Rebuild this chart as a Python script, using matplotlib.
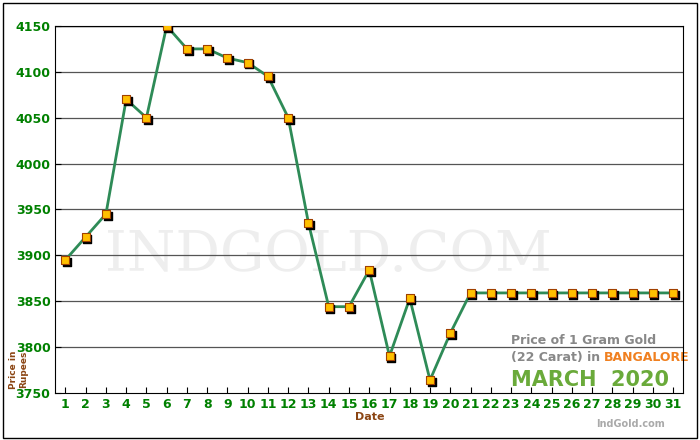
import matplotlib
matplotlib.use("Agg")
import matplotlib.pyplot as plt
from matplotlib.patches import Rectangle

dates = list(range(1, 32))
prices = [3895, 3920, 3945, 4070, 4050, 4150, 4125, 4125, 4115, 4110, 4095, 4050,
          3935, 3844, 3844, 3884, 3790, 3853, 3764, 3815] + [3859] * 11
yticks = [3750, 3800, 3850, 3900, 3950, 4000, 4050, 4100, 4150]

fig = plt.figure(figsize=(7, 4.4), dpi=100)
fig.patches.append(Rectangle((0.004, 0.004), 0.992, 0.99, transform=fig.transFigure,
                             fill=False, edgecolor="black", lw=1))
ax = fig.add_axes([0.079, 0.107, 0.897, 0.834])
ax.set_xlim(0.5, 31.5)
ax.set_ylim(3750, 4150)
for y in yticks[1:-1]:
    ax.axhline(y, color="#555555", lw=0.9, zorder=1)
ax.axhline(4150, color="black", lw=1, zorder=1)
ax.text(23.0, 3803, "Price of 1 Gram Gold", color="#888888", fontsize=9, fontweight="bold", zorder=0)
ax.text(23.0, 3785, "(22 Carat) in ", color="#888888", fontsize=9, fontweight="bold", zorder=0)
ax.text(27.6, 3785, "BANGALORE", color="#f08020", fontsize=9, fontweight="bold", zorder=0)
ax.text(23.0, 3758, "MARCH  2020", color="#6aaa3a", fontsize=15, fontweight="bold", zorder=0)
ax.text(14, 3900, "INDGOLD.COM", color="#eeeeee", fontsize=40, fontfamily="DejaVu Serif",
        ha="center", va="center", zorder=0)
ax.plot(dates, prices, color="#2e8b57", lw=2, zorder=3)
ax.scatter([d + 0.08 for d in dates], [p - 2 for p in prices], marker="s", s=36, color="black", zorder=4)
ax.scatter(dates, prices, marker="s", s=36, color="#ffc000", edgecolors="#a04000", linewidths=0.8, zorder=5)
ax.set_xticks(dates)
ax.set_yticks(yticks)
ax.tick_params(colors="black", labelcolor="green", labelsize=9, direction="in", length=4)
for lab in ax.get_yticklabels() + ax.get_xticklabels():
    lab.set_fontweight("bold")
ax.set_xlabel("Date", color="#8b4513", fontsize=8, fontweight="bold", labelpad=1)
fig.text(0.027, 0.16, "Price in\nRupees", color="#8b4513", fontsize=6.5, fontweight="bold",
         rotation=90, ha="center", va="center")
fig.text(0.95, 0.03, "IndGold.com", color="#aaaaaa", fontsize=7, fontweight="bold", ha="right")
fig.savefig("out.png", dpi=100)
